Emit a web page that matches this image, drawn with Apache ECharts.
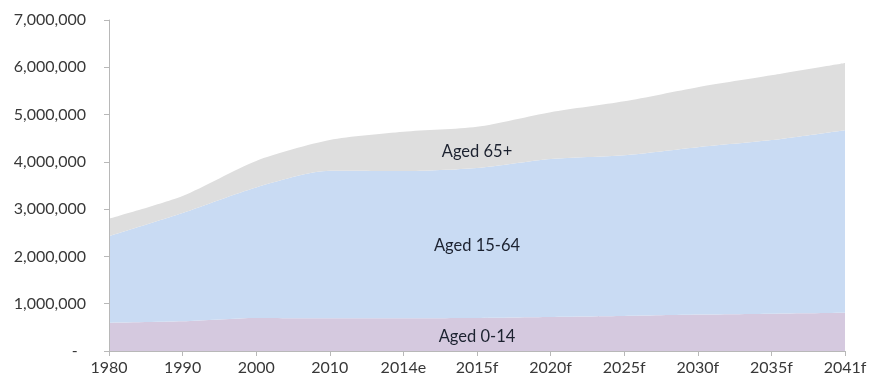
<!DOCTYPE html>
<html>
<head>
<meta charset="utf-8">
<script src="https://cdn.jsdelivr.net/npm/echarts@6/dist/echarts.min.js"></script>
<style>
html,body{margin:0;padding:0;background:#fff;}
#chart{width:873px;height:385px;}
</style>
</head>
<body>
<div id="chart"></div>
<script>
var categories = ['1980','1990','2000','2010','2014e','2015f','2020f','2025f','2030f','2035f','2041f'];
var aged0to14 = [600000, 630000, 700000, 690000, 695000, 700000, 720000, 740000, 770000, 790000, 810000];
var aged15to64 = [1830000, 2290000, 2760000, 3120000, 3110000, 3170000, 3340000, 3400000, 3540000, 3670000, 3860000];
var aged65plus = [370000, 360000, 560000, 650000, 830000, 870000, 990000, 1140000, 1270000, 1370000, 1420000];
var seriesNames = ['Aged 0-14', 'Aged 15-64', 'Aged 65+'];
var labelAnchors = [['2015f', 300000], ['2015f', 2220000], ['2015f', 4210000]];
var yTicks = { min: 0, max: 7000000, interval: 1000000 };

var colors = ['#d5c9df', '#c9dbf3', '#dedede'];
var dataSets = [aged0to14, aged15to64, aged65plus];
var font = 'Lato, "Open Sans", sans-serif';

var chart = echarts.init(document.getElementById('chart'));
var series = dataSets.map(function (d, i) {
  return {
    name: seriesNames[i],
    type: 'line',
    stack: 'pop',
    data: d,
    symbol: 'none',
    smooth: 0.25,
    lineStyle: { width: 0 },
    areaStyle: { color: colors[i], opacity: 1 },
    itemStyle: { color: colors[i] },
    z: 2,
    markPoint: {
      symbol: 'circle',
      symbolSize: 0,
      silent: true,
      label: {
        show: true,
        position: 'inside',
        formatter: seriesNames[i],
        color: '#1c2230',
        fontFamily: font,
        fontSize: 16.5
      },
      data: [{ coord: labelAnchors[i] }]
    }
  };
});

chart.setOption({
  animation: false,
  backgroundColor: '#ffffff',
  grid: { left: 109, right: 28, top: 20, bottom: 34, containLabel: false },
  xAxis: {
    type: 'category',
    data: categories,
    boundaryGap: false,
    axisLine: { show: true, lineStyle: { color: '#b8b8b8', width: 1 } },
    axisTick: { show: true, inside: false, length: 5, lineStyle: { color: '#b8b8b8' } },
    axisLabel: { color: '#383838', fontFamily: font, fontSize: 16, margin: 9 },
    splitLine: { show: false },
    z: 5
  },
  yAxis: {
    type: 'value',
    min: yTicks.min,
    max: yTicks.max,
    interval: yTicks.interval,
    axisLine: { show: true, lineStyle: { color: '#b8b8b8', width: 1 } },
    axisTick: { show: true, length: 5, lineStyle: { color: '#b8b8b8' } },
    splitLine: { show: false },
    axisLabel: {
      color: '#383838',
      fontFamily: font,
      fontSize: 16,
      margin: 23,
      formatter: function (v) {
        if (v === 0) return '-  ';
        return v.toString().replace(/\B(?=(\d{3})+(?!\d))/g, ',');
      }
    },
    z: 5
  },
  series: series
});
</script>
</body>
</html>
